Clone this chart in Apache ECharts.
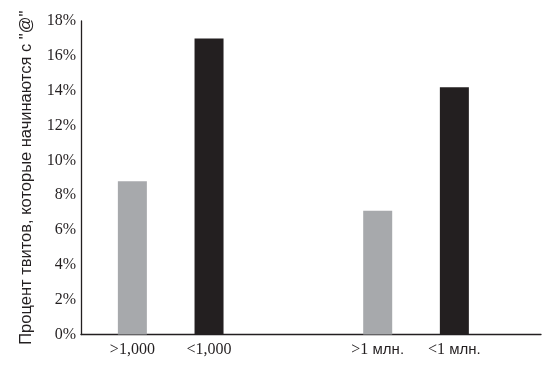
<!DOCTYPE html>
<html>
<head>
<meta charset="utf-8">
<script src="https://cdn.jsdelivr.net/npm/echarts@6/dist/echarts.min.js"></script>
<style>
html,body{margin:0;padding:0;background:#fff;}
#chart{width:550px;height:366px;}
</style>
</head>
<body>
<div id="chart"></div>
<script>
// ---- data ----
const categories = ['>1,000', '<1,000', '>1 млн.', '<1 млн.'];
const values = [8.8, 17.0, 7.1, 14.2];
const yTicks = [0, 2, 4, 6, 8, 10, 12, 14, 16, 18];
const yTitle = 'Процент твитов, которые начинаются с "@"';

// ---- layout helpers (not data) ----
const SLOT_OFFSET = 0.67;   // first bar slot
const GROUP_GAP = 1.2;      // extra space between the two pairs
const slotOf = i => SLOT_OFFSET + i + (i >= 2 ? GROUP_GAP : 0);
const slots = categories.map((c, i) => slotOf(i));

const GRAY = '#a7a9ac';
const BLACK = '#231f20';
const SERIF = 'Liberation Serif';
const SANS = 'Liberation Sans';

function richLabel(name) {
  const m = name.match(/^([^А-Яа-яЁё]*?)(\s*[А-Яа-яЁё].*)?$/);
  const a = m ? m[1] : name;
  const b = m && m[2] ? m[2] : '';
  return '{s|' + a + '}' + (b ? '{c|' + b + '}' : '');
}

const chart = echarts.init(document.getElementById('chart'), null, {renderer: 'canvas'});
chart.setOption({
  animation: false,
  backgroundColor: '#fff',
  grid: {left: 81, right: 9, top: 21, bottom: 31.5},
  xAxis: {
    type: 'value',
    min: 0,
    max: 6,
    splitLine: {show: false},
    axisLine: {show: true, lineStyle: {color: BLACK, width: 1.3}},
    axisTick: {show: false},
    axisLabel: {
      customValues: slots,
      margin: 7,
      formatter: function (v) {
        let idx = -1;
        slots.forEach((s, i) => { if (Math.abs(s - v) < 1e-6) idx = i; });
        return idx >= 0 ? richLabel(categories[idx]) : '';
      },
      rich: {
        s: {fontFamily: SERIF, fontSize: 16, color: BLACK},
        c: {fontFamily: SANS, fontSize: 15, color: BLACK}
      }
    }
  },
  yAxis: {
    type: 'value',
    min: 0,
    max: 18,
    interval: 2,
    name: yTitle,
    nameLocation: 'middle',
    nameRotate: 90,
    nameGap: 46,
    nameTextStyle: {fontFamily: SANS, fontSize: 16.5, color: BLACK},
    splitLine: {show: false},
    axisLine: {show: true, lineStyle: {color: BLACK, width: 1.3}},
    axisTick: {show: false},
    axisLabel: {
      customValues: yTicks,
      margin: 5,
      fontFamily: SERIF,
      fontSize: 16,
      color: BLACK,
      formatter: '{value}%'
    }
  },
  series: [{
    type: 'bar',
    barWidth: 29,
    data: values.map((v, i) => [slots[i], v]),
    itemStyle: {
      color: function (p) { return p.dataIndex % 2 === 0 ? GRAY : BLACK; }
    }
  }]
});
</script>
</body>
</html>
